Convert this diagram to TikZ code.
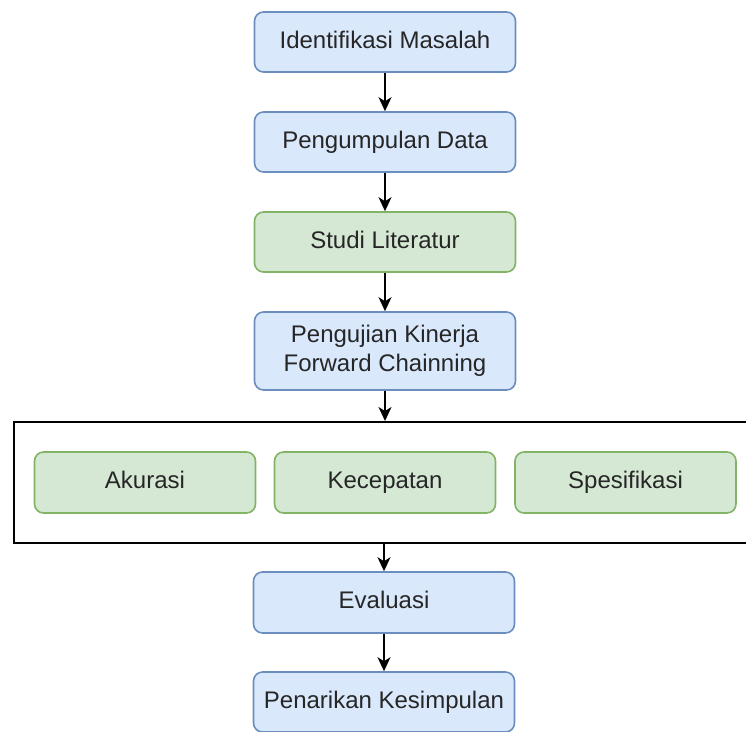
\documentclass[tikz,border=0pt]{standalone}
\usepackage{fontspec}
\setmainfont{Liberation Sans}
\usetikzlibrary{arrows.meta}
\definecolor{bfill}{HTML}{DAE8FC}
\definecolor{bdraw}{HTML}{6C8EBF}
\definecolor{gfill}{HTML}{D5E8D4}
\definecolor{gdraw}{HTML}{82B366}
\definecolor{txt}{HTML}{262626}
\tikzset{
  box/.style={rectangle, rounded corners=9pt, line width=1.6pt, minimum width=261pt, minimum height=60pt, inner sep=0pt, text=txt, font=\fontsize{24}{29}\selectfont, align=center},
  oneline/.style={text height=17pt, text depth=5pt},
  bluebox/.style={box, fill=bfill, draw=bdraw},
  greenbox/.style={box, fill=gfill, draw=gdraw},
  smallbox/.style={greenbox, oneline, minimum width=221pt, minimum height=61pt},
  conn/.style={line width=1.6pt, -{Stealth[length=14pt,width=13pt,inset=4pt]}},
}
\begin{document}
\begin{tikzpicture}[x=1pt,y=-1pt]
\useasboundingbox (0,0) rectangle (746,731);
\clip (0,0) rectangle (746,731);
\node[bluebox, oneline] (b1) at (385,42) {Identifikasi Masalah};
\node[bluebox, oneline] (b2) at (385,142) {Pengumpulan Data};
\node[greenbox, oneline] (b3) at (385,242) {Studi Literatur};
\node[bluebox, minimum height=78pt] (b4) at (385,351) {Pengujian Kinerja\\Forward Chainning};
\node[rectangle, draw=black, line width=2pt, minimum width=760pt, minimum height=121pt, inner sep=0pt] (cont) at (394,482.5) {};
\node[smallbox] (k1) at (145,482.5) {Akurasi};
\node[smallbox] (k2) at (385,482.5) {Kecepatan};
\node[smallbox] (k3) at (625.5,482.5) {Spesifikasi};
\node[bluebox, oneline, minimum height=61pt] (b5) at (384,602.5) {Evaluasi};
\node[bluebox, oneline] (b6) at (384,702) {Penarikan Kesimpulan};
\draw[conn] (b1.south) -- (b2.north);
\draw[conn] (b2.south) -- (b3.north);
\draw[conn] (b3.south) -- (b4.north);
\draw[conn] (b4.south) -- (b4.south |- cont.north);
\draw[conn] (b5.north |- cont.south) -- (b5.north);
\draw[conn] (b5.south) -- (b6.north);
\end{tikzpicture}
\end{document}
